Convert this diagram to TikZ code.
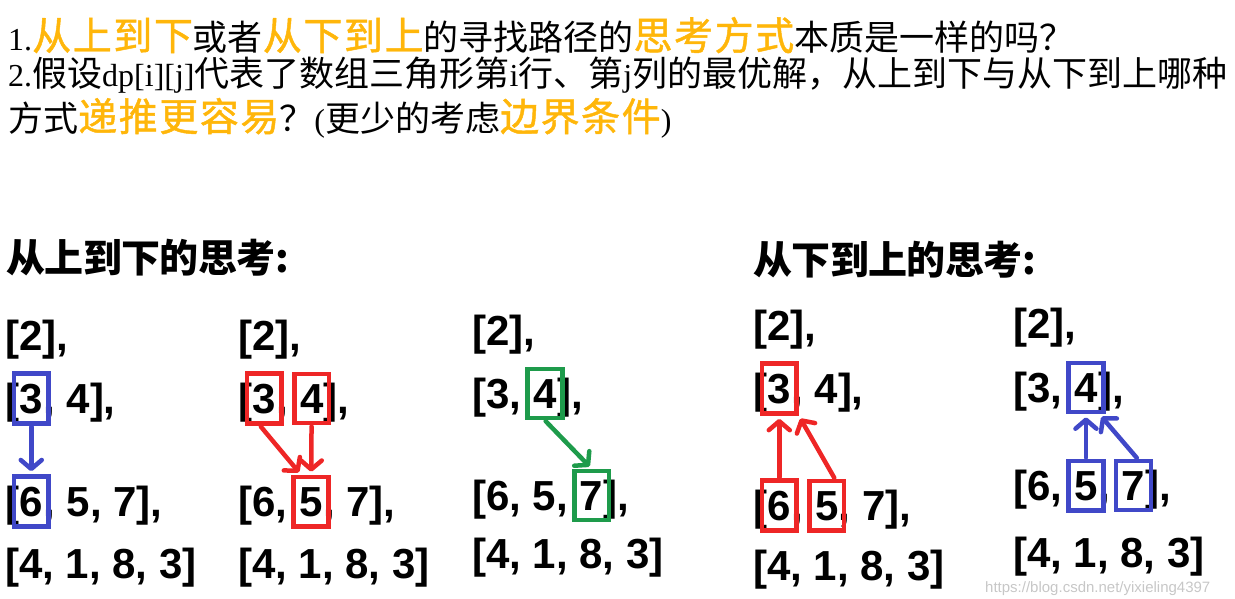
\documentclass[tikz,border=0pt]{standalone}
\usepackage{fontspec}
\setmainfont{Noto Sans CJK SC}
\newfontfamily\latfont{Liberation Serif}
\newfontfamily\hlfont[LetterSpace=4,FakeBold=1.2]{Noto Sans CJK SC}
\newfontfamily\headfont[LetterSpace=-1.5]{Noto Sans CJK SC}
\newfontfamily\numfont{Liberation Sans}
\usetikzlibrary{fit,arrows.meta}
\definecolor{hl}{RGB}{255,182,10}
\definecolor{mblue}{RGB}{64,72,200}
\definecolor{mred}{RGB}{238,38,38}
\definecolor{mgreen}{RGB}{30,155,75}
\newcommand{\lat}[1]{{\latfont\fontsize{32}{38}\selectfont #1}}
\newcommand{\hlt}[1]{{\hlfont\fontsize{39}{44}\selectfont\color{hl}#1}}
\newcommand{\gap}{\kern.278em}

\begin{document}
\begin{tikzpicture}[x=1pt,y=-1pt,
    txt/.style={anchor=base west,inner sep=0pt,font=\fontsize{35}{42}\selectfont},
    head/.style={anchor=base west,inner sep=0pt,%
                 font=\headfont\bfseries\fontsize{39}{46}\selectfont},
    num/.style={anchor=base west,inner sep=0pt,%
                font=\numfont\bfseries\fontsize{42}{48}\selectfont},
    hbox/.style={draw=#1,line width=4.5pt,inner xsep=5.5pt,inner ysep=10pt},
    link/.style={draw=#1,line width=4.5pt,line cap=round,%
                 -{Straight Barb[length=9pt,width=21pt,round]},%
                 shorten >=3pt,shorten <=1pt}
]
\useasboundingbox (0,0) rectangle (1235,598);

% questions
\node[txt] (q1) at (8,50) {\lat{1.}\hlt{从上到下}或者\hlt{从下到上}的寻找路径的\hlt{思考方式}本质是一样的吗？};
\node[txt] (q2) at (8,86) {\lat{2.}假设\lat{dp[i][j]}代表了数组三角形第\lat{i}行、第\lat{j}列的最优解，从上到下与从下到上哪种};
\node[txt] (q3) at (8,131) {方式\hlt{递推更容易}？\lat{(}更少的考虑\hlt{边界条件}\lat{)}};

\node[head] (top) at (6,272) {从上到下的思考:};
\node[head] (bot) at (753,274) {从下到上的思考:};

% top-down, first
\node[num] (a1) at (5,350) {[2],};
\node[num] (a2) at (5,413) {[};
\node[num] (a2x) at (a2.base east) {3};
\node[num] (a2y) at (a2x.base east) {, 4],};
\node[num] (a3) at (5,516) {[};
\node[num] (a3x) at (a3.base east) {6};
\node[num] (a3y) at (a3x.base east) {, 5, 7],};
\node[num] (a4) at (5,578) {[4, 1, 8, 3]};
\node[hbox=mblue,fit=(a2x)] (ba1) {};
\node[hbox=mblue,fit=(a3x)] (ba2) {};
\draw[link=mblue] (ba1) -- (ba2);

% top-down, middle
\node[num] (b1) at (238,350) {[2],};
\node[num] (b2) at (238,413) {[};
\node[num] (b2x) at (b2.base east) {3};
\node[num] (b2y) at (b2x.base east) {,\gap};
\node[num] (b2z) at (b2y.base east) {4};
\node[num] (b2w) at (b2z.base east) {],};
\node[num] (b3) at (238,516) {[6,\gap};
\node[num] (b3x) at (b3.base east) {5};
\node[num] (b3y) at (b3x.base east) {, 7],};
\node[num] (b4) at (238,578) {[4, 1, 8, 3]};
\node[hbox=mred,fit=(b2x)] (bb1) {};
\node[hbox=mred,fit=(b2z)] (bb2) {};
\node[hbox=mred,fit=(b3x)] (bb3) {};
\draw[link=mred] ([xshift=-4pt]bb1.south) -- ([xshift=-10pt]bb3.north);
\draw[link=mred] (bb2) -- (bb3);

% top-down, last
\node[num] (c1) at (472,345) {[2],};
\node[num] (c2) at (472,408) {[3,\gap};
\node[num] (c2x) at (c2.base east) {4};
\node[num] (c2y) at (c2x.base east) {],};
\node[num] (c3) at (472,510) {[6, 5,\gap};
\node[num] (c3x) at (c3.base east) {7};
\node[num] (c3y) at (c3x.base east) {],};
\node[num] (c4) at (472,568) {[4, 1, 8, 3]};
\node[hbox=mgreen,fit=(c2x)] (bc1) {};
\node[hbox=mgreen,fit=(c3x)] (bc2) {};
\draw[link=mgreen] (bc1.south) -- (bc2.north);

% bottom-up, first
\node[num] (d1) at (753,340) {[2],};
\node[num] (d2) at (753,403) {[};
\node[num] (d2x) at (d2.base east) {3};
\node[num] (d2y) at (d2x.base east) {, 4],};
\node[num] (d3) at (753,520) {[};
\node[num] (d3x) at (d3.base east) {6};
\node[num] (d3y) at (d3x.base east) {,\gap};
\node[num] (d3z) at (d3y.base east) {5};
\node[num] (d3w) at (d3z.base east) {, 7],};
\node[num] (d4) at (753,580) {[4, 1, 8, 3]};
\node[hbox=mred,fit=(d2x)] (bd1) {};
\node[hbox=mred,fit=(d3x)] (bd2) {};
\node[hbox=mred,fit=(d3z)] (bd3) {};
\draw[link=mred] (bd2) -- (bd1);
\draw[link=mred] ([xshift=8pt]bd3.north) -- (bd1.south east);

% bottom-up, last
\node[num] (e1) at (1013,338) {[2],};
\node[num] (e2) at (1013,402) {[3,\gap};
\node[num] (e2x) at (e2.base east) {4};
\node[num] (e2y) at (e2x.base east) {],};
\node[num] (e3) at (1013,500) {[6,\gap};
\node[num] (e3x) at (e3.base east) {5};
\node[num] (e3y) at (e3x.base east) {,\gap};
\node[num] (e3z) at (e3y.base east) {7};
\node[num] (e3w) at (e3z.base east) {],};
\node[num] (e4) at (1013,567) {[4, 1, 8, 3]};
\node[hbox=mblue,fit=(e2x)] (be1) {};
\node[hbox=mblue,fit=(e3x)] (be2) {};
\node[hbox=mblue,fit=(e3z)] (be3) {};
\draw[link=mblue] (be2) -- (be1);
\draw[link=mblue] ([xshift=4pt]be3.north) -- ([xshift=-6pt]be1.south east);

\node[anchor=base west,inner sep=0pt,text=black!22,%
      font=\numfont\fontsize{15}{18}\selectfont] (wm) at (985,592) {https://blog.csdn.net/yixieling4397};
\end{tikzpicture}
\end{document}
